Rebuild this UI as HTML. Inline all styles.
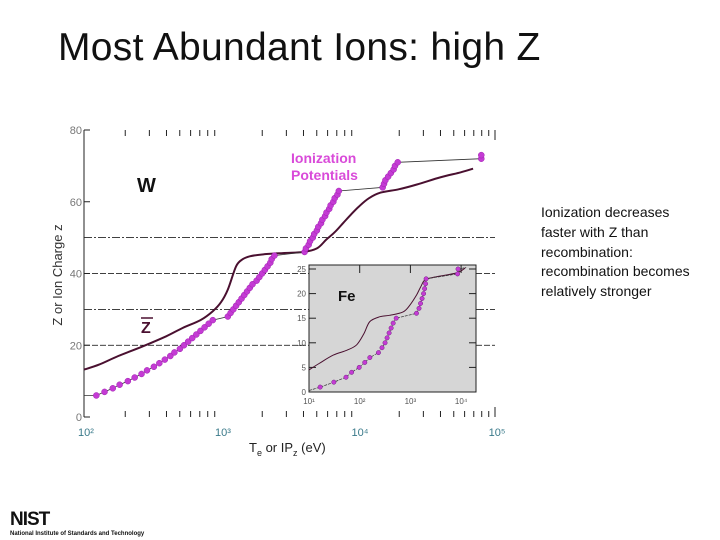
<!DOCTYPE html>
<html><head><meta charset="utf-8"><style>
body{margin:0;width:720px;height:540px;background:#fff;position:relative;overflow:hidden;font-family:"Liberation Sans",sans-serif}
#title{position:absolute;left:58px;top:26px;font-size:39px;color:#111;font-weight:300;letter-spacing:0.3px}
#note{position:absolute;left:541px;top:203px;font-size:14px;line-height:19.8px;color:#111}
svg{position:absolute;left:0;top:0}
</style></head><body>
<div id="title">Most Abundant Ions: high Z</div>
<div id="note">Ionization decreases<br>faster with Z than<br>recombination:<br>recombination becomes<br>relatively stronger</div>
<svg id="chart" width="720" height="540"></svg>
<script>
// Main W chart data
const xTickLabels=["10²","10³","10⁴","10⁵"];
const yTicks=[0,20,40,60,80];
const zbarLogT=[2.0,2.11,2.25,2.43,2.6,2.72,2.85,2.94,3.0,3.05,3.11,3.16,3.21,3.3,3.45,3.6,3.7,3.77,3.83,3.89,3.95,4.01,4.08,4.16,4.3,4.43,4.6,4.75,4.84];
const zbarZ=[13.2,14.6,17,19.7,22.5,24.8,27,29.5,32,35.5,42,44,44.8,45.3,45.7,46,47,49.5,51.5,54,56.5,58.8,61,62.5,63.5,64.8,66.8,68.2,69.2];
const ipZ=[6,7,8,9,10,11,12,13,14,15,16,17,18,19,20,21,22,23,24,25,26,27,28,29,30,31,32,33,34,35,36,37,38,39,40,41,42,43,44,45,46,47,48,49,50,51,52,53,54,55,56,57,58,59,60,61,62,63,64,65,66,67,68,69,70,71,72,73];
const ipLog=[2.09,2.15,2.21,2.26,2.32,2.37,2.42,2.46,2.51,2.55,2.59,2.63,2.66,2.70,2.73,2.76,2.79,2.82,2.85,2.88,2.91,2.94,3.05,3.07,3.09,3.11,3.13,3.15,3.17,3.19,3.21,3.23,3.26,3.28,3.30,3.32,3.34,3.36,3.37,3.39,3.61,3.62,3.64,3.65,3.67,3.68,3.70,3.71,3.73,3.74,3.76,3.77,3.79,3.80,3.82,3.83,3.85,3.86,4.18,4.19,4.20,4.22,4.24,4.26,4.27,4.29,4.90,4.90];
const refLines=[20,30,40,50];
// Fe inset data
const feTickLabels=["10¹","10²","10³","10⁴"];
const feYTicks=[0,5,10,15,20,25];
const feCurveLog=[1.0,1.2,1.48,1.75,1.94,2.08,2.2,2.4,2.6,2.86,3.0,3.12,3.2,3.29,3.5,3.91,4.08];
const feCurveZ=[4.5,5.8,7.5,8.5,9.6,11.8,14.3,15.3,15.6,16.3,17.8,19.7,21.3,22.8,23.4,24.2,25.2];
const feZ=[1,2,3,4,5,6,7,8,9,10,11,12,13,14,15,16,17,18,19,20,21,22,23,24,25];
const feLog=[1.22,1.49,1.73,1.84,1.99,2.1,2.2,2.37,2.44,2.5,2.54,2.58,2.62,2.66,2.72,3.12,3.17,3.2,3.23,3.26,3.28,3.3,3.31,3.93,3.94];

const S=document.getElementById('chart');const NS='http://www.w3.org/2000/svg';
function mk(t,a,p){const e=document.createElementNS(NS,t);for(const k in a)e.setAttribute(k,a[k]);(p||S).appendChild(e);return e;}
const X=l=>84+(l-2)*137, Y=z=>417-z*3.5875;
const FX=l=>309+(l-1)*50.7, FY=z=>392-z*4.92;
const PURPLE='#c43bd4', DARK='#4a1030';
function smooth(pts){let d='M'+pts[0][0].toFixed(1)+','+pts[0][1].toFixed(1);
for(let i=0;i<pts.length-1;i++){const p0=pts[i-1]||pts[i],p1=pts[i],p2=pts[i+1],p3=pts[i+2]||p2;
const c1=[p1[0]+(p2[0]-p0[0])/6,p1[1]+(p2[1]-p0[1])/6],c2=[p2[0]-(p3[0]-p1[0])/6,p2[1]-(p3[1]-p1[1])/6];
d+='C'+c1[0].toFixed(1)+','+c1[1].toFixed(1)+' '+c2[0].toFixed(1)+','+c2[1].toFixed(1)+' '+p2[0].toFixed(1)+','+p2[1].toFixed(1);}
return d;}
// ref lines
refLines.forEach((z,i)=>{const e=mk('line',{x1:84,x2:495,y1:Y(z),y2:Y(z),stroke:'#000','stroke-width':0.8,'stroke-dasharray':(z%20==0)?'6,2':'8,2,2,2'});

});
// axis
let ax=mk('line',{x1:84,x2:84,y1:130,y2:417,stroke:'#222','stroke-width':1});

yTicks.forEach(v=>{const t=mk('text',{x:82,y:Y(v)+4,'font-size':11,fill:'#777','text-anchor':'end'});t.textContent=v;

mk('line',{x1:84,x2:90,y1:Y(v),y2:Y(v),stroke:'#222'});});
xTickLabels.forEach((s,i)=>{const t=mk('text',{x:X(2+i)+2,y:436,'font-size':11,fill:'#3a7a8a','text-anchor':'middle'});t.textContent=s;
});
for(let d=2;d<5;d++)for(let m=1;m<=10;m++){const l=d+Math.log10(m);if(m==1&&d>2||m==10&&d<4)continue;
const L=(m==1||m==10)?10:6;
mk('line',{x1:X(l),x2:X(l),y1:130,y2:130+L,stroke:'#222'});
mk('line',{x1:X(l),x2:X(l),y1:417,y2:417-L,stroke:'#222'});}
// zbar line
let zl=mk('path',{d:smooth(zbarLogT.map((l,i)=>[X(l),Y(zbarZ[i])])),fill:'none',stroke:DARK,'stroke-width':2});

let d='M'+X(2.0)+','+Y(6);ipLog.forEach((l,i)=>d+='L'+X(l).toFixed(1)+','+Y(ipZ[i]).toFixed(1));
mk('path',{d,fill:'none',stroke:'#333','stroke-width':0.8});
ipLog.forEach((l,i)=>{const c=mk('circle',{cx:X(l),cy:Y(ipZ[i]),r:3,fill:PURPLE,stroke:'#a020b0','stroke-width':0.5});
});
// inset
let ib=mk('rect',{x:309,y:265,width:167,height:127,fill:'#d6d6d6',stroke:'#222'});

feYTicks.forEach(v=>{mk('line',{x1:309,x2:316,y1:FY(v),y2:FY(v),stroke:'#222'});mk('line',{x1:469,x2:476,y1:FY(v),y2:FY(v),stroke:'#222'});
const t=mk('text',{x:306,y:FY(v)+3,'font-size':8,fill:'#555','text-anchor':'end'});t.textContent=v;
});
feTickLabels.forEach((s,i)=>{const t=mk('text',{x:FX(1+i),y:404,'font-size':8,fill:'#555','text-anchor':'middle'});t.textContent=s;

mk('line',{x1:FX(1+i),x2:FX(1+i),y1:265,y2:273,stroke:'#222'});});
mk('path',{d:smooth(feCurveLog.map((l,i)=>[FX(l),FY(feCurveZ[i])])),fill:'none',stroke:DARK,'stroke-width':1});
d='M'+FX(1.0)+','+FY(0.3);feLog.forEach((l,i)=>d+='L'+FX(l).toFixed(1)+','+FY(feZ[i]).toFixed(1));d+='L'+FX(4.1)+','+FY(25.3);
mk('path',{d,fill:'none',stroke:'#333','stroke-width':0.7,'stroke-dasharray':'3,1'});
feLog.forEach((l,i)=>{const c=mk('circle',{cx:FX(l),cy:FY(feZ[i]),r:2.2,fill:PURPLE,stroke:'#702080','stroke-width':0.5});
});
// labels
function lab(x,y,s,sz,fill,name,w){const t=mk('text',{x,y,'font-size':sz,fill,'font-weight':w||'bold'});t.textContent=s;
return t;}
lab(137,192,'W',20,'#111','w-label');
lab(338,301,'Fe',15,'#111','fe-label');
lab(291,163,'Ionization',14,'#d94ad9','ip-label-1');
lab(291,180,'Potentials',14,'#d94ad9','ip-label-2');
lab(141,333,'Z',16,'#4a1030','zbar-label');
mk('line',{x1:141,x2:153,y1:318,y2:318,stroke:'#4a1030','stroke-width':1.5});
let xt=mk('text',{x:249,y:452,'font-size':13,fill:'#222'});xt.innerHTML='T<tspan font-size="9" dy="4">e</tspan><tspan dy="-4"> or IP</tspan><tspan font-size="9" dy="4">z</tspan><tspan dy="-4"> (eV)</tspan>';

let yt=mk('text',{x:0,y:0,'font-size':13,fill:'#333','text-anchor':'middle',transform:'translate(62,275) rotate(-90)'});yt.textContent='Z or Ion Charge z';

// NIST logo
let lg=mk('text',{x:10,y:525,'font-size':19,'font-weight':'bold',fill:'#111','letter-spacing':'-1'});lg.textContent='NIST';

let lg2=mk('text',{x:10,y:535,'font-size':6,'font-weight':'bold',fill:'#111'});lg2.textContent='National Institute of Standards and Technology';

</script>
</body></html>
